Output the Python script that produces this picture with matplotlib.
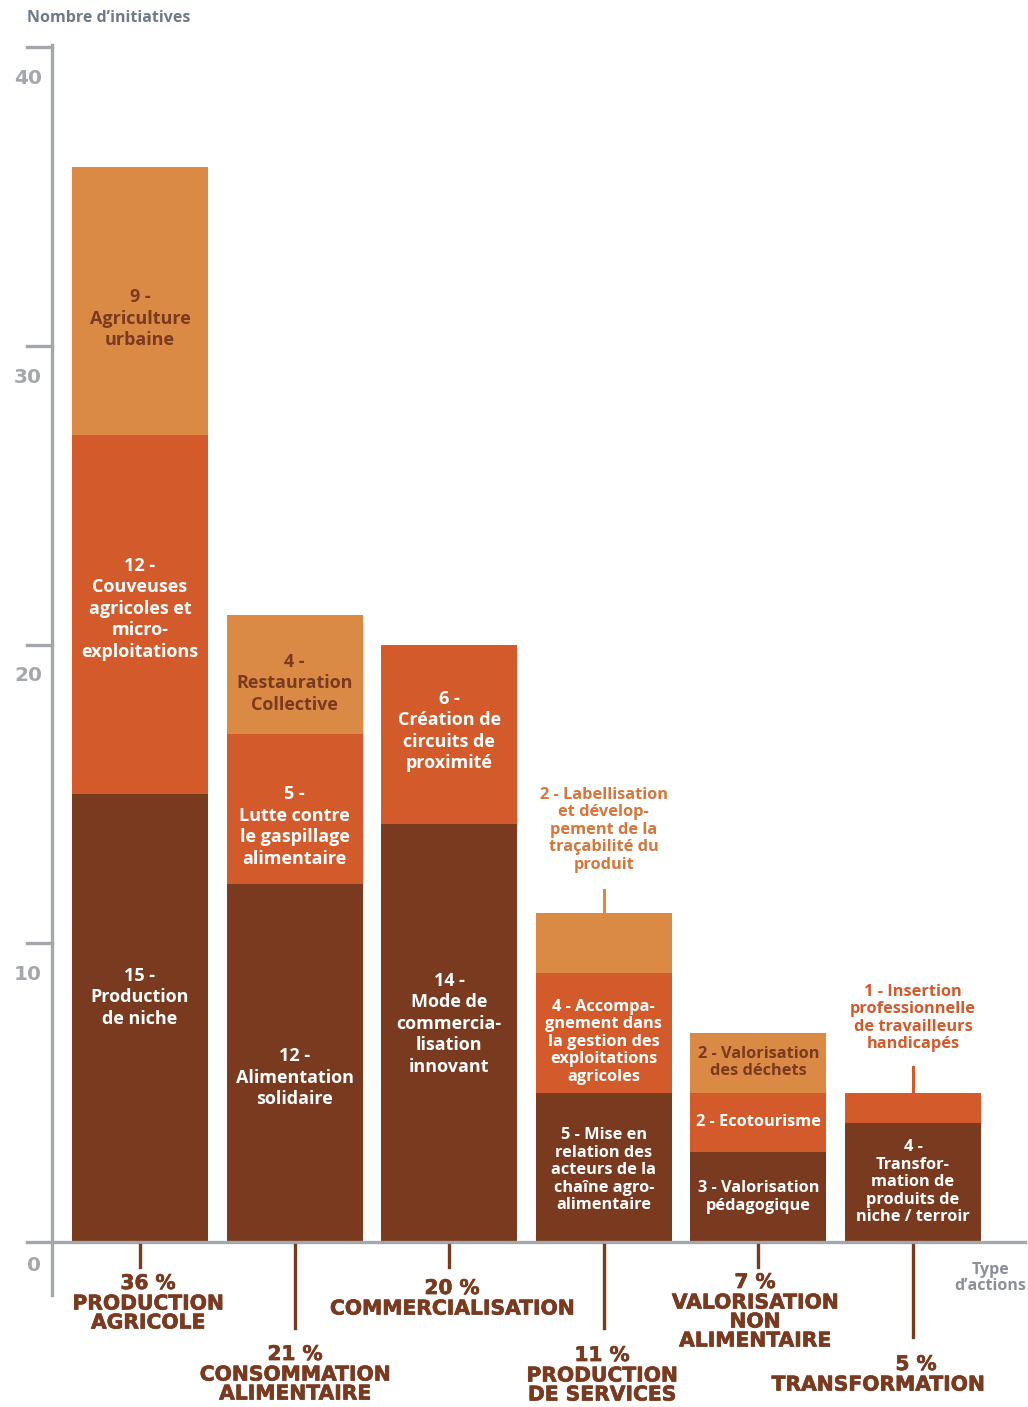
import matplotlib.pyplot as plt
import matplotlib.patheffects as pe
import numpy as np

# données (nombre d'initiatives par type d'action)
categories = ["PRODUCTION\nAGRICOLE", "CONSOMMATION\nALIMENTAIRE", "COMMERCIALISATION",
              "PRODUCTION\nDE SERVICES", "VALORISATION\nNON\nALIMENTAIRE", "TRANSFORMATION"]
percents = [36, 21, 20, 11, 7, 5]

dark_vals = [15, 12, 14, 5, 3, 4]
red_vals = [12, 5, 6, 4, 2, 1]
light_vals = [9, 4, 0, 2, 2, 0]

dark_labels = ["15 -\nProduction\nde niche", "12 -\nAlimentation\nsolidaire",
               "14 -\nMode de\ncommercia-\nlisation\ninnovant",
               "5 - Mise en\nrelation des\nacteurs de la\nchaîne agro-\nalimentaire",
               "3 - Valorisation\npédagogique",
               "4 -\nTransfor-\nmation de\nproduits de\nniche / terroir"]
red_labels = ["12 -\nCouveuses\nagricoles et\nmicro-\nexploitations",
              "5 -\nLutte contre\nle gaspillage\nalimentaire",
              "6 -\nCréation de\ncircuits de\nproximité",
              "4 - Accompa-\ngnement dans\nla gestion des\nexploitations\nagricoles",
              "2 - Ecotourisme",
              "1 - Insertion\nprofessionnelle\nde travailleurs\nhandicapés"]
light_labels = ["9 -\nAgriculture\nurbaine", "4 -\nRestauration\nCollective", "",
                "2 - Labellisation\net dévelop-\npement de la\ntraçabilité du\nproduit",
                "2 - Valorisation\ndes déchets", ""]

# mise en page
DARK = '#7a3a1f'
RED = '#d35a2a'
LIGHT = '#db8a45'
GREY = '#a4a8ac'
W, H = 1028, 1407
X0, STEP = 140, 154.6      # centre de la 1re barre et pas, en pixels
Y0, UNIT = 1242, 29.87     # pixel du zéro et pixels par initiative


def px_x(p):
    return (p - X0) / STEP


def px_y(p):
    return (Y0 - p) / UNIT


small = [False, False, False, True, True, True]
dark_y = [8.2, 5.5, 7.3, 2.4, 1.5, 2.0]
red_y = [21.2, 13.9, 17.1, 6.7, 4.0, 7.5]
light_y = [30.9, 18.7, 0, 13.8, 6.0, 0]
outside_red = [False, False, False, False, False, True]
outside_light = [False, False, False, True, False, False]

fig = plt.figure(figsize=(W / 100, H / 100), dpi=100)
ax = fig.add_axes([52 / W, (H - Y0) / H, (1025 - 52) / W, (Y0 - 47) / H])

x = np.arange(len(categories))
dark = np.array(dark_vals)
red = np.array(red_vals)
light = np.array(light_vals)
ax.bar(x, dark, 0.88, color=DARK)
ax.bar(x, red, 0.88, bottom=dark, color=RED)
ax.bar(x, light, 0.88, bottom=dark + red, color=LIGHT)
ax.set_xlim(px_x(52), px_x(1025))
ax.set_ylim(0, 40)
ax.axis('off')

font = "Open Sans"
for i in x:
    fs = 11.8 if small[i] else 13
    ls = 1.12 if small[i] else 1.25
    ax.text(i, dark_y[i], dark_labels[i], ha='center', va='center', color='white',
            fontsize=fs, fontweight='bold', family=font, linespacing=ls)
    top = dark[i] + red[i] + light[i]
    if outside_red[i]:
        ax.text(i, red_y[i], red_labels[i], ha='center', va='center', color=RED,
                fontsize=11.8, fontweight='bold', family=font, linespacing=1.12)
        ax.plot([i, i], [top, px_y(1067)], color=RED, lw=2.2)
    else:
        ax.text(i, red_y[i], red_labels[i], ha='center', va='center', color='white',
                fontsize=fs, fontweight='bold', family=font, linespacing=ls)
    if outside_light[i]:
        ax.text(i, light_y[i], light_labels[i], ha='center', va='center', color='#d6763a',
                fontsize=11.8, fontweight='bold', family=font, linespacing=1.12)
        ax.plot([i, i], [top, px_y(890)], color=LIGHT, lw=2.2)
    elif light_labels[i]:
        ax.text(i, light_y[i], light_labels[i], ha='center', va='center', color=DARK,
                fontsize=fs, fontweight='bold', family=font, linespacing=ls)

# axes dessinés à la main
ax.plot([px_x(52), px_x(52)], [px_y(45), px_y(1295)], color=GREY, lw=2.4, clip_on=False)
ax.plot([px_x(27), px_x(1025)], [0, 0], color=GREY, lw=2.4, clip_on=False)
for v in [10, 20, 30, 40]:
    ax.plot([px_x(27), px_x(52)], [v, v], color=GREY, lw=2.4, clip_on=False)
    ax.text(px_x(42), v - 1.05, str(v), ha='right', va='center', color=GREY,
            fontsize=14.5, fontweight='bold', clip_on=False)
ax.text(px_x(41), px_y(1265), "0", ha='right', va='center', color=GREY,
        fontsize=14.5, fontweight='bold')

# étiquettes des catégories sous l'axe
leader_end = [1267, 1328, 1267, 1328, 1267, 1337]
pct_top = [1274, 1345, 1279, 1346, 1273, 1355]
pct_x = [148, 295, 452, 602, 755, 916]
name_x = [148, 295, 452, 602, 755, 878]
thick = [pe.withStroke(linewidth=0.5, foreground=DARK)]
for i in x:
    ax.plot([i, i], [px_y(1245), px_y(leader_end[i])], color=DARK, lw=2.4, clip_on=False)
    ax.text(px_x(pct_x[i]), px_y(pct_top[i]), f"{percents[i]} %", ha='center', va='top',
            color=DARK, fontsize=14.5, fontweight='bold', path_effects=thick)
    ax.text(px_x(name_x[i]), px_y(pct_top[i] + 20.5), categories[i], ha='center', va='top',
            color=DARK, fontsize=14.6, fontweight='bold', linespacing=1.0,
            path_effects=thick)

fig.text(27 / W, 1 - 18 / H, "Nombre d’initiatives", ha='left', va='center',
         color='#6f7b88', fontsize=11.5, fontweight='bold', family=font)
fig.text(990 / W, 1 - 1278 / H, "Type\nd’actions", ha='center', va='center',
         color='#8a9096', fontsize=11.5, fontweight='bold', family=font, linespacing=1.05)

fig.savefig("out.png", dpi=100)
